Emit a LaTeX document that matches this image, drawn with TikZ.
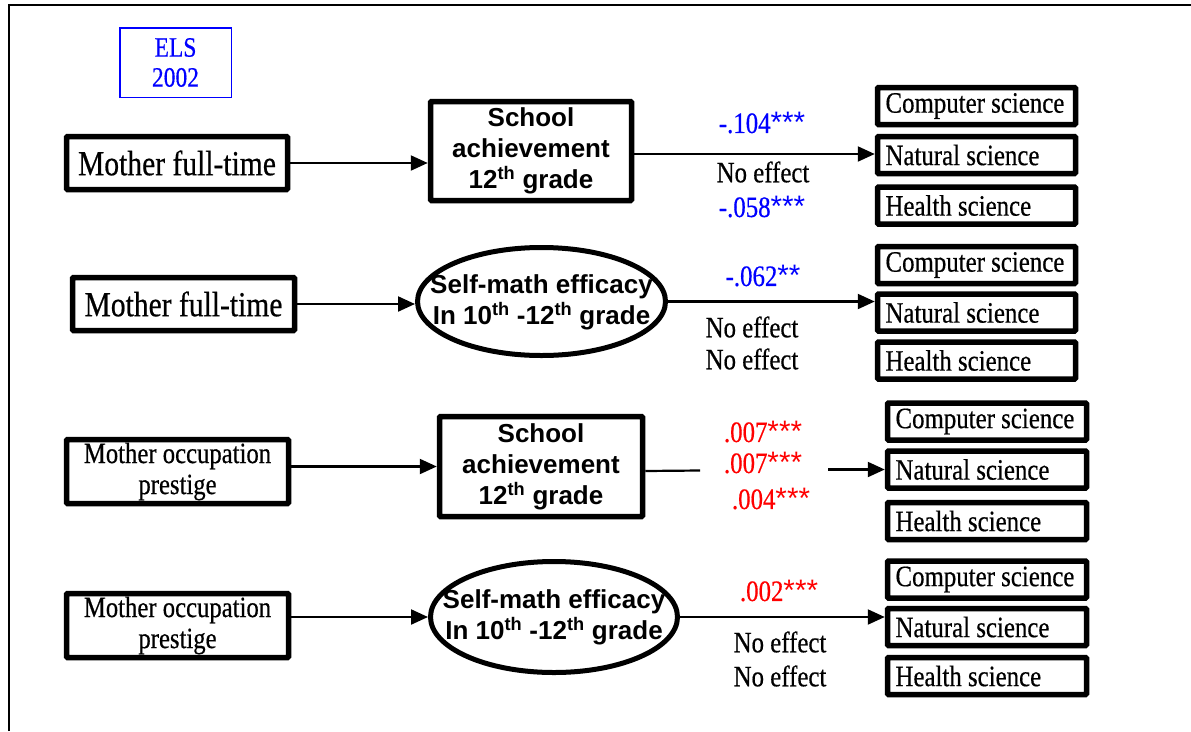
\documentclass[tikz,border=0pt]{standalone}
\usepackage{fontspec}
\setsansfont{Liberation Sans}
\newfontfamily\tw[FakeStretch=0.84,FakeBold=0.5]{Liberation Serif}
\usetikzlibrary{arrows.meta,shapes.geometric}
\definecolor{pblue}{RGB}{0,0,255}
\definecolor{pred}{RGB}{255,0,0}
\newcommand{\stars}[1]{\textsf{#1}}
\tikzset{
  bx/.style={draw, line width=5.5pt, rounded corners=1pt, inner sep=0pt},
  srcbox/.style={bx, align=center, font=\tw\fontsize{29.4}{31}\selectfont},
  midbox/.style={bx, minimum width=201pt, minimum height=99pt, align=center,
                 font=\sffamily\bfseries\fontsize{26}{31}\selectfont},
  ellbox/.style={draw, ellipse, line width=5pt, inner sep=0pt},
  elltext/.style={align=center, inner sep=0pt, font=\sffamily\bfseries\fontsize{26}{31}\selectfont},
  outbox/.style={bx, minimum height=37pt, inner xsep=8pt, align=flush left,
                 font=\tw\fontsize{29.6}{30}\selectfont},
  lab/.style={inner sep=0pt, font=\tw\fontsize{29.6}{30}\selectfont},
  arr/.style={line width=2.2pt, -{Triangle[length=17pt,width=15pt]}},
  ln/.style={line width=2.2pt},
}
\begin{document}
\begin{tikzpicture}[x=1pt,y=-1pt]
\useasboundingbox (0,0) rectangle (1191,731);
\draw[line width=2pt] (9,731) -- (9,5) -- (1191,5);

% ELS label
\node[draw=pblue, line width=1.5pt, minimum width=111.5pt, minimum height=69.5pt, inner sep=0pt,
      text=pblue, align=center, font=\tw\fontsize{28}{30}\selectfont] (els) at (175.5,62.5) {ELS\\2002};

% ---------- Row 1 ----------
\node[srcbox, minimum width=221pt, minimum height=53pt, font=\tw\fontsize{35.2}{36}\selectfont] (m1) at (177,163) {Mother full-time};
\node[midbox] (s1) at (531,151) {School\\achievement\\12\textsuperscript{th} grade};
\node[outbox, text width=182pt] (c1) at (976.5,106) {Computer science};
\node[outbox, text width=182pt] (n1) at (976.5,155) {Natural science};
\node[outbox, text width=182pt] (h1) at (976.5,205.5) {Health science};
\draw[arr] (m1.east) -- (m1.east -| s1.west);
\draw[arr] (s1.east |- 0,154) -- (n1.west |- 0,154);
\node[lab, text=pblue] (l1a) at (762,123) {-.104\stars{***}};
\node[lab] (l1b) at (763,172) {No effect};
\node[lab, text=pblue] (l1c) at (762,207) {-.058\stars{***}};

% ---------- Row 2 ----------
\node[srcbox, minimum width=222pt, minimum height=53pt, font=\tw\fontsize{35.2}{36}\selectfont] (m2) at (183.5,304) {Mother full-time};
\node[ellbox, minimum width=248pt, minimum height=108pt] (e2) at (541.5,301.5) {};
\node[elltext] (e2t) at (541.5,302) {Self-math efficacy\\In 10\textsuperscript{th} -12\textsuperscript{th} grade};
\node[outbox, text width=182pt] (c2) at (976.5,265) {Computer science};
\node[outbox, text width=182pt] (n2) at (976.5,312.5) {Natural science};
\node[outbox, text width=182pt] (h2) at (976.5,360.5) {Health science};
\draw[arr] (m2.east) -- (m2.east -| e2.west);
\draw[arr] (e2.east) -- (e2.east -| n2.west);
\node[lab, text=pblue] (l2a) at (763,276) {-.062\stars{**}};
\node[lab] (l2b) at (752,327) {No effect};
\node[lab] (l2c) at (752,359) {No effect};

% ---------- Row 3 ----------
\node[srcbox, minimum width=222pt, minimum height=64pt] (m3) at (177.5,471.5) {Mother occupation\\prestige};
\node[midbox, minimum width=203pt, minimum height=100pt] (s3) at (541,466.5) {School\\achievement\\12\textsuperscript{th} grade};
\node[outbox, text width=183pt] (c3) at (987,421.5) {Computer science};
\node[outbox, text width=183pt] (n3) at (987,469.5) {Natural science};
\node[outbox, text width=183pt] (h3) at (987,521) {Health science};
\draw[arr] (m3.east |- s3.west) -- (s3.west);
\coordinate (g3a) at (700,470.5);
\coordinate (g3b) at (828,469.5);
\draw[ln] (s3.east |- 0,471) -- (g3a);
\draw[arr] (g3b) -- (g3b -| n3.west);
\node[lab, text=pred] (l3a) at (763,432) {.007\stars{***}};
\node[lab, text=pred] (l3b) at (763,463) {.007\stars{***}};
\node[lab, text=pred] (l3c) at (771,499) {.004\stars{***}};

% ---------- Row 4 ----------
\node[srcbox, minimum width=222pt, minimum height=64pt] (m4) at (177.5,625.5) {Mother occupation\\prestige};
\node[ellbox, minimum width=247pt, minimum height=111pt] (e4) at (554,617) {};
\node[elltext] (e4t) at (554,617.5) {Self-math efficacy\\In 10\textsuperscript{th} -12\textsuperscript{th} grade};
\node[outbox, text width=183pt] (c4) at (987,579.5) {Computer science};
\node[outbox, text width=183pt] (n4) at (987,627) {Natural science};
\node[outbox, text width=183pt] (h4) at (987,676) {Health science};
\draw[arr] (m4.east |- e4.west) -- (e4.west);
\draw[arr] (e4.east) -- (e4.east -| n4.west);
\node[lab, text=pred] (l4a) at (779,591) {.002\stars{***}};
\node[lab] (l4b) at (780,642) {No effect};
\node[lab] (l4c) at (780,676) {No effect};
\end{tikzpicture}
\end{document}
